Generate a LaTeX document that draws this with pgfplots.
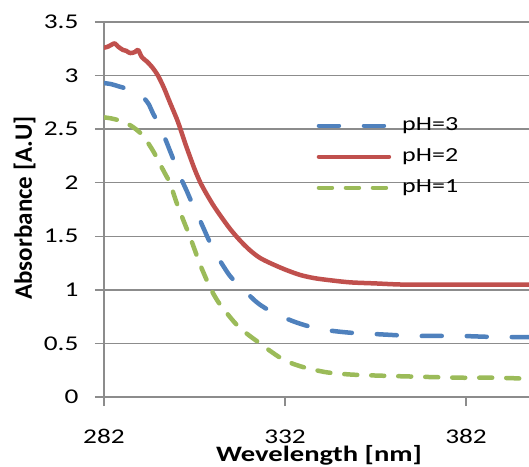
\documentclass[border=0pt]{standalone}
\usepackage{fontspec}
\setmainfont{Carlito}[FakeStretch=1.3]
\newfontfamily\ylabfont{Carlito}
\usepackage{pgfplots}
\pgfplotsset{compat=1.18}
\definecolor{phblue}{HTML}{4F81BD}
\definecolor{phred}{HTML}{C0504D}
\definecolor{phgreen}{HTML}{9BBB59}
\definecolor{gridgray}{HTML}{8C8C8C}

\begin{document}
\begin{tikzpicture}
\clip (-104pt,-69pt) rectangle (425pt,397pt);
\begin{axis}[
  at={(0,0)}, anchor=south west,
  scale only axis, width=425pt, height=375pt,
  xmin=282, xmax=399.4, ymin=0, ymax=3.5,
  xtick={282,332,382}, ytick={0,0.5,...,3.5},
  axis x line=bottom, axis y line=left,
  axis line style={-, draw=gridgray, line width=1.5pt},
  ymajorgrids, grid style={draw=gridgray, line width=1.5pt},
  tick align=outside, major tick length=9pt,
  tick style={draw=gridgray, line width=1.5pt},
  /pgf/number format/assume math mode=true,
  tick label style={font=\fontsize{21}{24}\selectfont},
  xticklabel style={yshift=-20pt},
  yticklabel style={xshift=-13pt},
  legend style={at={(rel axis cs:0.50,0.765)}, anchor=north west,
    draw=none, fill=none, inner sep=0pt,
    font=\fontsize{20}{24}\selectfont,
    nodes={inner xsep=4pt, inner ysep=7pt, text height=13pt, text depth=4pt}},
  legend image code/.code={\draw[#1] (0pt,0pt) -- (70pt,0pt);},
]
\addplot[phblue, line width=4.5pt, line cap=round, dash pattern=on 20pt off 25pt, smooth] coordinates {
(282,2.93) (284,2.92) (286,2.90) (288,2.88) (290,2.85) (291.1,2.83)
(292.2,2.81) (293.3,2.78) (294.4,2.73) (295.5,2.65) (296.9,2.56)
(298.3,2.46) (300.2,2.30) (301.6,2.18) (303.0,2.06) (304.9,1.92)
(306.3,1.81) (307.7,1.71) (309.3,1.59) (311.3,1.44) (313.2,1.32)
(315,1.22) (316.8,1.13) (319,1.05) (321.5,0.97) (324,0.89)
(326.5,0.83) (330.6,0.76) (334,0.71) (337.5,0.67) (341,0.64)
(344.4,0.62) (350,0.60) (355.5,0.59) (361,0.58) (366.5,0.57)
(373,0.57) (380.3,0.57) (390,0.56) (399.4,0.56)};
\addlegendentry{\hspace{7pt}pH=3}
\addplot[phred, line width=4.5pt, line cap=round, line join=round, smooth] coordinates {
(282,3.26) (283.1,3.27) (284.2,3.29) (285.0,3.30) (285.9,3.27)
(287.2,3.24) (288.2,3.23) (289.2,3.21) (290.6,3.22) (291.4,3.24)
(292.5,3.17) (293.9,3.13) (295.5,3.07) (296.9,3.00) (298.5,2.89)
(300.2,2.75) (302.4,2.57) (304.4,2.37) (306,2.22) (307.1,2.12)
(308.5,2.01) (309.9,1.92) (312,1.80) (314,1.70) (316.8,1.57)
(319.6,1.46) (322.3,1.37) (325,1.30) (327.9,1.25) (332,1.19)
(336.1,1.14) (340,1.11) (344.4,1.09) (350,1.07) (357,1.06)
(363.8,1.05) (370,1.05) (377.6,1.05) (385,1.05) (392,1.05) (399.4,1.05)};
\addlegendentry{\hspace{7pt}pH=2}
\addplot[phgreen, line width=4.5pt, line cap=round, dash pattern=on 13pt off 14pt, smooth] coordinates {
(282,2.61) (284,2.60) (286.4,2.58) (288,2.56) (290,2.52) (291.5,2.48)
(292.8,2.44) (294,2.38) (295.5,2.30) (296.8,2.22) (298,2.14)
(299.1,2.07) (300.2,2.00) (301.2,1.90) (302.2,1.80) (303.8,1.66)
(305.8,1.49) (307.1,1.37) (308.5,1.24) (310,1.12) (311.3,1.02)
(313.5,0.89) (316,0.78) (318.5,0.68) (321.5,0.59) (325.1,0.50)
(327.9,0.43) (331,0.36) (334.2,0.31) (338,0.27) (343.6,0.23)
(350,0.21) (357.4,0.20) (368,0.19) (380.3,0.18) (390,0.18) (399.4,0.17)};
\addlegendentry{\hspace{7pt}pH=1}
\end{axis}
\node[anchor=base, font=\fontsize{22}{26}\selectfont\bfseries] at (215pt,-64pt) {Wevelength [nm]};
\node[anchor=base, rotate=90, font=\ylabfont\fontsize{25}{30}\selectfont\bfseries] at (-72pt,189pt) {Absorbance [A.U]};
\end{tikzpicture}
\end{document}
